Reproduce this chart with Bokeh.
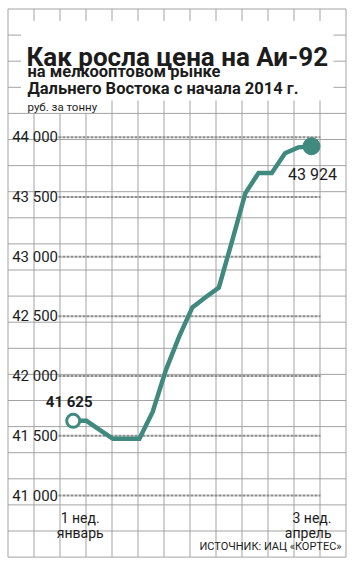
from bokeh.plotting import figure
from bokeh.models import Range1d, ColumnDataSource
from bokeh.core.properties import value
from bokeh.embed import file_html
from bokeh.resources import INLINE

# ---------------- data ----------------
weeks = list(range(19))  # weekly points, 1st week of January .. 3rd week of April
prices = [41625, 41625, 41550, 41475, 41475, 41475, 41700, 42050, 42330, 42575,
          42660, 42740, 43130, 43530, 43700, 43700, 43865, 43915, 43924]
y_ticks = [41000, 41500, 42000, 42500, 43000, 43500, 44000]
y_tick_labels = ["41 000", "41 500", "42 000", "42 500", "43 000", "43 500", "44 000"]
start_label = "41 625"
end_label = "43 924"
x_label_first = ["1 нед.", "январь"]
x_label_last = ["3 нед.", "апрель"]
title = "Как росла цена на Аи-92"
subtitle = ["на мелкооптовом рынке", "Дальнего Востока с начала 2014 г."]
unit = "руб. за тонну"
source_text = "ИСТОЧНИК: ИАЦ «КОРТЕС»"

# ---------------- layout ----------------
W, H = 358, 569
X_FIRST_PX, X_LAST_PX = 72.7, 311.0
Y_TOP_VAL, Y_TOP_PX = 44000, 136.7
Y_BOT_VAL, Y_BOT_PX = 41000, 495.0

sx = (X_LAST_PX - X_FIRST_PX) / (weeks[-1] - weeks[0])
x_start = weeks[0] - X_FIRST_PX / sx
x_end = x_start + W / sx
sy = (Y_BOT_PX - Y_TOP_PX) / (Y_TOP_VAL - Y_BOT_VAL)
y_end = Y_TOP_VAL + Y_TOP_PX / sy
y_start = y_end - H / sy

TEAL = "#3f897f"
INK = "#1c1c1c"
PAPER = "#a3a3a3"
FONT = value("Roboto")

p = figure(width=W, height=H, x_range=Range1d(x_start, x_end), y_range=Range1d(y_start, y_end),
           x_axis_type=None, y_axis_type=None, toolbar_location=None,
           output_backend="svg", min_border=0)
p.outline_line_color = None
p.grid.visible = False
p.background_fill_color = "white"
p.border_fill_color = "white"
p.extra_x_ranges = {"px": Range1d(0, W)}
p.extra_y_ranges = {"px": Range1d(0, H)}


def py(v):
    """screen px from top -> px range value (from bottom)"""
    return H - v


# graph-paper background, left open behind the title panel
GX0, GX1, GY0, GY1 = 7.5, 345.5, 8.5, 556.6
BOX_L, BOX_R, BOX_T, BOX_B = 20.5, 333.0, 20.5, 100.0
UNIT_R, UNIT_B = 108.5, 112.5
vx = [GX0 + 26.0 * k for k in range(14)]
hy = [GY0 + 26.1 * k for k in range(22)]
sx0, sx1, sy0, sy1 = [], [], [], []
for x in vx:
    if BOX_L < x < BOX_R:
        bottom = UNIT_B if x < UNIT_R else BOX_B
        runs = [(GY0, BOX_T), (bottom, GY1)]
    else:
        runs = [(GY0, GY1)]
    for a, b in runs:
        sx0.append(x); sx1.append(x); sy0.append(py(a)); sy1.append(py(b))
for y in hy:
    if BOX_T < y < BOX_B:
        runs = [(GX0, BOX_L), (BOX_R, GX1)]
    elif BOX_B <= y < UNIT_B:
        runs = [(GX0, BOX_L), (UNIT_R, GX1)]
    else:
        runs = [(GX0, GX1)]
    for a, b in runs:
        sx0.append(a); sx1.append(b); sy0.append(py(y)); sy1.append(py(y))
p.segment(x0=sx0, x1=sx1, y0=sy0, y1=sy1, line_color=PAPER, line_width=1,
          x_range_name="px", y_range_name="px")

# titles
p.text(x=[26], y=[py(56)], text=[title], text_font=FONT, text_font_style="bold",
       text_font_size="26px", text_color=INK, text_baseline="middle",
       x_range_name="px", y_range_name="px")
p.text(x=[27, 27], y=[py(71), py(88)], text=subtitle, text_font=FONT,
       text_font_style="bold", text_font_size="16.5px", text_color=INK,
       text_baseline="middle", x_range_name="px", y_range_name="px")
p.text(x=[27], y=[py(106)], text=[unit], text_font=FONT, text_font_size="11.5px",
       text_color=INK, text_baseline="middle", x_range_name="px", y_range_name="px")

# dotted value gridlines
p.segment(x0=[58] * len(y_ticks), x1=[320] * len(y_ticks), y0=y_ticks, y1=y_ticks,
          line_color="#8c8c8c", line_width=2, line_dash="3 1", x_range_name="px")
p.text(x=[57.5] * len(y_ticks), y=y_ticks, text=y_tick_labels, text_font=FONT,
       text_font_size="15px", text_color=INK, text_align="right", text_baseline="middle",
       x_range_name="px")

# price line
src = ColumnDataSource(dict(x=weeks, y=prices))
p.line("x", "y", source=src, line_color=TEAL, line_width=4.5, line_join="miter")
p.scatter(x=[weeks[0]], y=[prices[0]], size=13, fill_color="white", line_color=TEAL,
          line_width=3)
p.scatter(x=[weeks[-1]], y=[prices[-1]], size=17, fill_color=TEAL, line_color=TEAL)

p.text(x=[weeks[0]], y=[prices[0]], text=[start_label], text_font=FONT, text_font_style="bold",
       text_font_size="15px", text_color=INK, text_align="center", text_baseline="middle",
       x_offset=-4, y_offset=-19)
p.text(x=[weeks[-1]], y=[prices[-1]], text=[end_label], text_font=FONT,
       text_font_size="16px", text_color=INK, text_align="center", text_baseline="middle",
       x_offset=1, y_offset=28)

# x labels
p.text(x=[weeks[0]] * 2, y=[py(517), py(532)], text=x_label_first, text_font=FONT,
       text_font_size="14px", text_color=INK, text_align="center", text_baseline="middle",
       x_offset=7, y_range_name="px")
p.text(x=[weeks[-1]] * 2, y=[py(517), py(532)], text=x_label_last, text_font=FONT,
       text_font_size="14px", text_color=INK, text_align="right", text_baseline="middle",
       x_offset=20, y_range_name="px")

# source
p.text(x=[341], y=[py(546)], text=[source_text], text_font=FONT, text_font_size="11px",
       text_color=INK, text_align="right", text_baseline="middle",
       x_range_name="px", y_range_name="px")

open("out.html", "w").write(file_html(p, INLINE))
